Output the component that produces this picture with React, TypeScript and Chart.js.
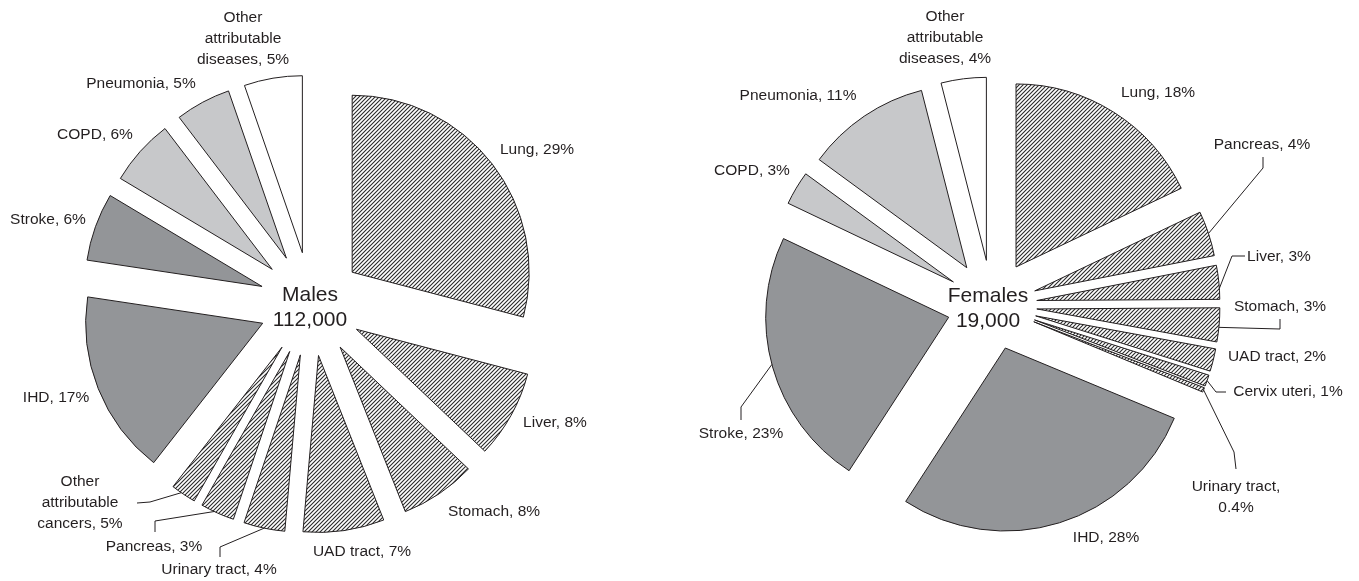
import React, { useEffect, useRef } from 'react';
import { Chart, PieController, ArcElement } from 'chart.js';

Chart.register(PieController, ArcElement);

// ---------------- DATA ----------------
const maleCategories = [
  'Lung', 'Liver', 'Stomach', 'UAD tract', 'Urinary tract', 'Pancreas',
  'Other attributable cancers', 'IHD', 'Stroke', 'COPD', 'Pneumonia', 'Other attributable diseases',
];
const maleValues = [29.05, 8.0, 6.9, 7.4, 3.75, 3.1, 2.3, 16.8, 6.2, 6.05, 5.05, 5.3];
const maleLabelText = [
  ['Lung, 29%'], ['Liver, 8%'], ['Stomach, 8%'], ['UAD tract, 7%'], ['Urinary tract, 4%'],
  ['Pancreas, 3%'], ['Other', 'attributable', 'cancers, 5%'], ['IHD, 17%'], ['Stroke, 6%'],
  ['COPD, 6%'], ['Pneumonia, 5%'], ['Other', 'attributable', 'diseases, 5%'],
];
const maleGroups = ['cancer', 'cancer', 'cancer', 'cancer', 'cancer', 'cancer', 'cancer', 'cvd', 'cvd', 'resp', 'resp', 'other'];
const maleTitle = ['Males', '112,000'];

const femaleCategories = [
  'Lung', 'Pancreas', 'Liver', 'Stomach', 'UAD tract', 'Cervix uteri', 'Urinary tract',
  'IHD', 'Stroke', 'COPD', 'Pneumonia', 'Other attributable diseases',
];
const femaleValues = [18, 4, 3, 3, 2, 1, 0.4, 28, 23, 3, 11, 4];
const femaleLabelText = [
  ['Lung, 18%'], ['Pancreas, 4%'], ['Liver, 3%'], ['Stomach, 3%'], ['UAD tract, 2%'],
  ['Cervix uteri, 1%'], ['Urinary tract,', '0.4%'], ['IHD, 28%'], ['Stroke, 23%'], ['COPD, 3%'],
  ['Pneumonia, 11%'], ['Other', 'attributable', 'diseases, 4%'],
];
const femaleGroups = ['cancer', 'cancer', 'cancer', 'cancer', 'cancer', 'cancer', 'cancer', 'cvd', 'cvd', 'resp', 'resp', 'other'];
const femaleTitle = ['Females', '19,000'];

// ---------------- LAYOUT (label placement relative to pie centre) ----------------
type Leader = { pts: [number, number][]; t: number; r: number };
type LabelLayout = { dx: number; dy: number; leader?: Leader };

const maleLayout: LabelLayout[] = [
  { dx: 226, dy: -154 },
  { dx: 244, dy: 119 },
  { dx: 183, dy: 208 },
  { dx: 51, dy: 248 },
  { dx: -92, dy: 266, leader: { pts: [[-91, 253], [-91, 243]], t: 0.5, r: 1 } },
  { dx: -157, dy: 243, leader: { pts: [[-156, 228], [-156, 217]], t: 0.6, r: 1 } },
  { dx: -231, dy: 199, leader: { pts: [[-174, 199], [-161, 198]], t: 0.6, r: 1 } },
  { dx: -255, dy: 94 },
  { dx: -263, dy: -84 },
  { dx: -216, dy: -169 },
  { dx: -170, dy: -220 },
  { dx: -68, dy: -265 },
];

const femaleLayout: LabelLayout[] = [
  { dx: 166, dy: -212 },
  { dx: 270, dy: -160, leader: { pts: [[271, -148], [271, -137]], t: 0.5, r: 1 } },
  { dx: 287, dy: -48, leader: { pts: [[253, -49], [240, -49]], t: 0.68, r: 1 } },
  { dx: 288, dy: 2, leader: { pts: [[288, 14], [288, 24]], t: 0.57, r: 1 } },
  { dx: 285, dy: 52 },
  { dx: 296, dy: 87, leader: { pts: [[234, 87], [224, 87]], t: 0.5, r: 1 } },
  { dx: 244, dy: 192, leader: { pts: [[244, 164], [242, 147]], t: 0.5, r: 1 } },
  { dx: 114, dy: 233 },
  { dx: -251, dy: 129, leader: { pts: [[-251, 115], [-251, 102]], t: 0.51, r: 1 } },
  { dx: -240, dy: -134 },
  { dx: -194, dy: -209 },
  { dx: -47, dy: -267 },
];

// ---------------- STYLES ----------------
const INK = '#231f20';
const LABEL_FONT = "15.5px 'Liberation Sans', Arial, sans-serif";
const TITLE_FONT = "21px 'Liberation Sans', Arial, sans-serif";

function makeHatch(): CanvasPattern | string {
  const s = 4;
  const c = document.createElement('canvas');
  c.width = s;
  c.height = s;
  const g = c.getContext('2d');
  if (!g) return '#999';
  g.fillStyle = '#ffffff';
  g.fillRect(0, 0, s, s);
  g.strokeStyle = '#2a2a2a';
  g.lineWidth = 1.1;
  g.beginPath();
  g.moveTo(-1, s + 1); g.lineTo(s + 1, -1);
  g.moveTo(-1, 1); g.lineTo(1, -1);
  g.moveTo(s - 1, s + 1); g.lineTo(s + 1, s - 1);
  g.stroke();
  return g.createPattern(c, 'repeat') || '#999';
}

function groupColor(group: string, hatch: CanvasPattern | string) {
  if (group === 'cancer') return hatch;
  if (group === 'cvd') return '#939598';
  if (group === 'resp') return '#c7c8ca';
  return '#ffffff';
}

const explodePlugin = {
  id: 'explode',
  afterDatasetUpdate(chart: any, args: any, opts: any) {
    const d = opts.distance || 0;
    for (const el of args.meta.data) {
      const mid = (el.startAngle + el.endAngle) / 2;
      el.x += Math.cos(mid) * d;
      el.y += Math.sin(mid) * d;
    }
  },
};

const pieLabelsPlugin = {
  id: 'pieLabels',
  afterDraw(chart: any, _args: any, opts: any) {
    const { ctx, chartArea } = chart;
    const cx = (chartArea.left + chartArea.right) / 2;
    const cy = (chartArea.top + chartArea.bottom) / 2;
    const meta = chart.getDatasetMeta(0);
    const texts: string[][] = opts.texts || [];
    const layout: LabelLayout[] = opts.layout || [];
    ctx.save();
    ctx.fillStyle = INK;
    ctx.strokeStyle = INK;
    ctx.lineWidth = 1;
    ctx.textAlign = 'center';
    ctx.textBaseline = 'middle';
    ctx.font = LABEL_FONT;
    texts.forEach((lines, i) => {
      const l = layout[i];
      if (!l) return;
      const x = cx + l.dx;
      const y = cy + l.dy;
      lines.forEach((line, k) => {
        ctx.fillText(line, x, y + (k - (lines.length - 1) / 2) * 21);
      });
      if (l.leader) {
        const el = meta.data[i];
        const a = el.startAngle + l.leader.t * (el.endAngle - el.startAngle);
        const ex = el.x + Math.cos(a) * el.outerRadius * l.leader.r;
        const ey = el.y + Math.sin(a) * el.outerRadius * l.leader.r;
        ctx.beginPath();
        l.leader.pts.forEach((p, k) => {
          const px = cx + p[0];
          const py = cy + p[1];
          if (k === 0) ctx.moveTo(px, py); else ctx.lineTo(px, py);
        });
        ctx.lineTo(ex, ey);
        ctx.stroke();
      }
    });
    // centre title
    const title: string[] = opts.title || [];
    ctx.font = TITLE_FONT;
    const tdx = opts.titleDx || 0;
    ctx.fillText(title[0] || '', cx + tdx, cy - 9);
    ctx.fillText(title[1] || '', cx + tdx, cy + 16);
    ctx.restore();
  },
};

type PieProps = {
  width: number;
  height: number;
  left: number;
  categories: string[];
  values: number[];
  groups: string[];
  texts: string[][];
  layout: LabelLayout[];
  title: string[];
  radius: number;
  explode: number;
  padding: { left: number; right: number; top: number; bottom: number };
  titleDx: number;
};

function ExplodedPie(props: PieProps) {
  const ref = useRef<HTMLCanvasElement | null>(null);
  useEffect(() => {
    const canvas = ref.current;
    if (!canvas) return;
    const hatch = makeHatch();
    const chart = new Chart(canvas, {
      type: 'pie',
      data: {
        labels: props.categories,
        datasets: [
          {
            data: props.values,
            backgroundColor: props.groups.map((g) => groupColor(g, hatch)),
            borderColor: INK,
            borderWidth: 1,
            borderJoinStyle: 'miter',
          } as any,
        ],
      },
      options: {
        responsive: false,
        animation: false,
        devicePixelRatio: 1,
        radius: props.radius,
        layout: { padding: props.padding },
        events: [],
        plugins: {
          legend: { display: false },
          tooltip: { enabled: false },
          explode: { distance: props.explode },
          pieLabels: { texts: props.texts, layout: props.layout, title: props.title, titleDx: props.titleDx },
        } as any,
      } as any,
      plugins: [explodePlugin, pieLabelsPlugin],
    });
    return () => chart.destroy();
  }, []);
  return (
    <canvas
      ref={ref}
      width={props.width}
      height={props.height}
      style={{ position: 'absolute', left: props.left, top: 0, width: props.width, height: props.height }}
    />
  );
}

export default function App() {
  return (
    <div style={{ position: 'absolute', left: 0, top: 0, width: 1359, height: 581, background: '#ffffff', overflow: 'hidden' }}>
      <ExplodedPie
        width={680}
        height={581}
        left={0}
        categories={maleCategories}
        values={maleValues}
        groups={maleGroups}
        texts={maleLabelText}
        layout={maleLayout}
        title={maleTitle}
        radius={177}
        explode={52}
        padding={{ left: 0, right: 58, top: 27, bottom: 0 }}
        titleDx={-1}
      />
      <ExplodedPie
        width={679}
        height={581}
        left={680}
        categories={femaleCategories}
        values={femaleValues}
        groups={femaleGroups}
        texts={femaleLabelText}
        layout={femaleLayout}
        title={femaleTitle}
        radius={183}
        explode={45}
        padding={{ left: 0, right: 55, top: 29, bottom: 0 }}
        titleDx={-4}
      />
    </div>
  );
}
